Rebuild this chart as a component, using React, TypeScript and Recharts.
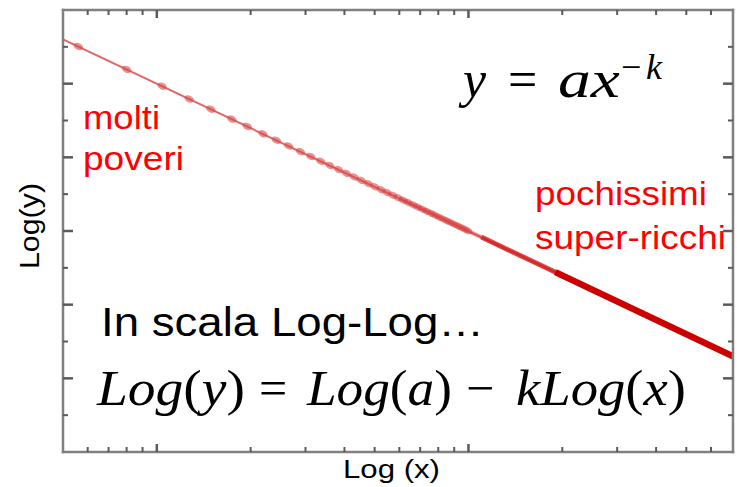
import { ComposedChart, Line, Scatter, XAxis, YAxis } from 'recharts';

// rank values of the sample points and their Log(y)
const sampleX = [
  5.6, 8.0, 10.4, 12.7, 14.9, 17.4, 19.5, 21.9, 24.2, 26.5, 28.9, 31.2, 33.6, 35.9, 38.3, 40.6,
  43.0, 45.3, 47.7, 50.0, 52.4, 54.7, 57.1, 59.4, 61.8, 64.1, 66.5, 68.8, 71.2, 73.5, 75.9, 78.2,
  80.6, 82.9, 85.3, 87.6, 90.0, 92.4, 94.7, 97.1, 99.4,
];
const sampleLogY = [
  4.504, 4.194, 3.966, 3.792, 3.654, 3.519, 3.42, 3.319, 3.232, 3.154, 3.078, 3.012, 2.947, 2.89,
  2.834, 2.783, 2.733, 2.688, 2.643, 2.602, 2.561, 2.524, 2.487, 2.452, 2.418, 2.386, 2.354, 2.325,
  2.295, 2.267, 2.24, 2.214, 2.187, 2.163, 2.138, 2.115, 2.092, 2.069, 2.048, 2.026, 2.005,
];

// fitted power law, straight in log-log
const fitX = [5, 706];
const fitLogY = [4.6, 0.3];

// crowded tail where the points merge into a band
const bandX = [60, 706];
const bandLogY = [2.444, 0.3];
const midX = [110, 706];
const midLogY = [1.917, 0.3];
const coreX = [190, 706];
const coreLogY = [1.442, 0.3];

const xTicks = [6, 7, 8, 9, 10, 20, 30, 40, 50, 60, 70, 80, 90, 100, 200, 300, 400, 500, 600];
const xMajor = [10, 100];
const yTicks = [-0.5, 0, 0.5, 1, 1.5, 2, 2.5, 3, 3.5, 4, 4.5];
const yMajor = [0, 1, 2, 3, 4];

const zip = (xs: number[], ys: number[]) => xs.map((x, i) => ({ x, y: ys[i] }));

const samples = zip(sampleX, sampleLogY);
const fit = zip(fitX, fitLogY);
const band = zip(bandX, bandLogY);
const mid = zip(midX, midLogY);
const core = zip(coreX, coreLogY);

const AXIS = '#808080';
const TICK = '#5a5a5a';

// inward tick marks, longer on major values
const makeTick = (side: string, majors: number[]) => (props: any) => {
  const { x, y, payload } = props;
  const major = majors.includes(payload.value);
  const len = major ? (side === 'left' || side === 'right' ? 10 : 8) : 5;
  const dx = side === 'left' ? len : side === 'right' ? -len : 0;
  const dy = side === 'top' ? len : side === 'bottom' ? -len : 0;
  return <line x1={x} y1={y} x2={x + dx} y2={y + dy} stroke={TICK} strokeWidth={major ? 2.5 : 2} />;
};

const axisLine = { stroke: AXIS, strokeWidth: 2.5, strokeLinecap: 'square' as const };
const sans = '"Liberation Sans", Arial, sans-serif';
const serif = '"Liberation Serif", "Times New Roman", serif';

const xAxisCommon = {
  dataKey: 'x',
  type: 'number' as const,
  scale: 'log' as const,
  domain: [5, 706],
  allowDataOverflow: true,
  ticks: xTicks,
  interval: 0,
  height: 1,
  tickSize: 0,
  tickMargin: 0,
  tickLine: false,
  axisLine,
};

const yAxisCommon = {
  type: 'number' as const,
  domain: [-1, 5],
  allowDataOverflow: true,
  ticks: yTicks,
  interval: 0,
  width: 1,
  tickSize: 0,
  tickMargin: 0,
  tickLine: false,
  axisLine,
};

export default function App() {
  return (
    <div style={{ position: 'absolute', left: 0, top: 0, width: 737, height: 487, background: '#fff' }}>
      <ComposedChart width={737} height={487} margin={{ top: 9, right: 3, bottom: 34, left: 62 }}>
        <XAxis {...xAxisCommon} tick={makeTick('bottom', xMajor)} />
        <XAxis {...xAxisCommon} xAxisId="top" orientation="top" tick={makeTick('top', xMajor)} />
        <YAxis {...yAxisCommon} tick={makeTick('left', yMajor)} />
        <YAxis {...yAxisCommon} yAxisId="right" orientation="right" tick={makeTick('right', yMajor)} />
        <Line data={fit} dataKey="y" stroke="#e06868" strokeWidth={2} dot={false} isAnimationActive={false} />
        <Line data={band} dataKey="y" stroke="#d83030" strokeOpacity={0.45} strokeWidth={4} dot={false} isAnimationActive={false} />
        <Line data={mid} dataKey="y" stroke="#d01818" strokeOpacity={0.7} strokeWidth={5} dot={false} isAnimationActive={false} />
        <Line data={core} dataKey="y" stroke="#cc0000" strokeWidth={6.5} dot={false} isAnimationActive={false} />
        <Scatter
          data={samples}
          dataKey="y"
          isAnimationActive={false}
          shape={(p: any) => (
            <ellipse cx={p.cx} cy={p.cy} rx={5} ry={3.4} fill="#d94848" fillOpacity={0.6} transform={`rotate(25 ${p.cx} ${p.cy})`} />
          )}
        />
      </ComposedChart>

      <svg width={737} height={487} style={{ position: 'absolute', left: 0, top: 0, pointerEvents: 'none' }}>
        <text
          transform="translate(39,226) rotate(-90)"
          textAnchor="middle"
          fontFamily={sans}
          fontSize={27}
          fill="#000"
          textLength={86}
          lengthAdjust="spacingAndGlyphs"
        >
          Log(y)
        </text>
        <text x={343} y={478} fontFamily={sans} fontSize={26} fill="#000" textLength={97} lengthAdjust="spacingAndGlyphs">
          Log (x)
        </text>

        <g fontFamily={sans} fontSize={33} fill="#ff0000">
          <text x={83} y={129} textLength={77} lengthAdjust="spacingAndGlyphs">molti</text>
          <text x={83} y={170} textLength={101} lengthAdjust="spacingAndGlyphs">poveri</text>
          <text x={535} y={205} textLength={172} lengthAdjust="spacingAndGlyphs">pochissimi</text>
          <text x={535} y={249} textLength={191} lengthAdjust="spacingAndGlyphs">super-ricchi</text>
        </g>

        <text x={101} y={336} fontFamily={sans} fontSize={40} fill="#000" textLength={383} lengthAdjust="spacingAndGlyphs">
          In scala Log-Log…
        </text>

        <g fontFamily={serif} fontSize={52} fill="#000">
          <text x={463} y={97} fontStyle="italic">y</text>
          <text x={508} y={97}>=</text>
          <text x={558} y={97} fontStyle="italic" textLength={62} lengthAdjust="spacingAndGlyphs">ax</text>
          <text x={621} y={79} fontSize={36}>−</text>
          <text x={646} y={79} fontSize={36} fontStyle="italic">k</text>
        </g>

        <g fontFamily={serif} fontSize={50} fill="#000">
          <text x={97} y={405} textLength={148} lengthAdjust="spacingAndGlyphs">
            <tspan fontStyle="italic">Log</tspan>(<tspan fontStyle="italic">y</tspan>)
          </text>
          <text x={259} y={405}>=</text>
          <text x={307} y={405} textLength={145} lengthAdjust="spacingAndGlyphs">
            <tspan fontStyle="italic">Log</tspan>(<tspan fontStyle="italic">a</tspan>)
          </text>
          <text x={466} y={405}>−</text>
          <text x={516} y={405} textLength={170} lengthAdjust="spacingAndGlyphs">
            <tspan fontStyle="italic">kLog</tspan>(<tspan fontStyle="italic">x</tspan>)
          </text>
        </g>
      </svg>
    </div>
  );
}
